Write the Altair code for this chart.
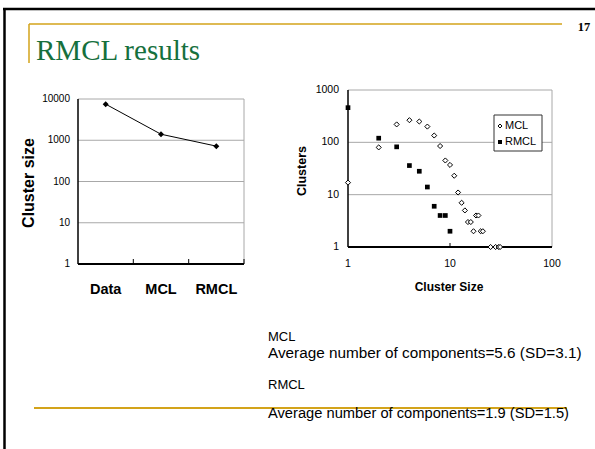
import altair as alt
import pandas as pd

# ---- values --------------------------------------------------------------
methods = ["Data", "MCL", "RMCL"]
method_cluster_size = [7500, 1400, 720]

mcl_sizes = [1, 2, 3, 4, 5, 6, 7, 8, 9, 10, 11, 12, 13, 14, 15, 16, 17, 18, 19, 20, 21, 25, 28, 30, 31]
mcl_counts = [17, 80, 220, 265, 250, 200, 135, 85, 45, 37, 23, 11, 7, 5, 3, 3, 2, 4, 4, 2, 2, 1, 1, 1, 1]

rmcl_sizes = [1, 2, 3, 4, 5, 6, 7, 8, 9, 10]
rmcl_counts = [460, 120, 82, 36, 28, 14, 6, 4, 4, 2]

left_ticks = [1, 10, 100, 1000, 10000]
left_grid = [10, 100, 1000]
right_y_ticks = [1, 10, 100, 1000]
right_grid = [10, 100]
right_x_ticks = [1, 10, 100]

notes = [
    ("MCL", "Average number of components=5.6 (SD=3.1)"),
    ("RMCL", "Average number of components=1.9 (SD=1.5)"),
]

# ---- styling -------------------------------------------------------------
W, H = 595, 449
GOLD = "#d3a31a"
GREEN = "#16703d"
GRID = "#a8a8a8"
SANS = "Liberation Sans"
SERIF = "Liberation Serif"

# panel geometry (pixel ranges of each plot area)
L_X, L_Y = [78, 244], [264, 99]
R_X, R_Y = [348, 552], [247, 90]

lx = alt.Scale(type="point", domain=methods, range=L_X, padding=0.5)
ly = alt.Scale(type="log", domain=[1, 10000], range=L_Y, nice=False)
rx = alt.Scale(type="log", domain=[1, 100], range=R_X, nice=False)
ry = alt.Scale(type="log", domain=[1, 1000], range=R_Y, nice=False)

one = pd.DataFrame({"k": [0]})


def seg(x1, y1, x2, y2, color, width):
    return alt.Chart(one).mark_rule(color=color, strokeWidth=width).encode(
        x=alt.value(x1), x2=alt.value(x2), y=alt.value(y1), y2=alt.value(y2)
    )


def label(x, y, text, **kw):
    return alt.Chart(one).mark_text(text=text, **kw).encode(
        x=alt.value(x), y=alt.value(y)
    )


layers = []

# ---- slide frame, rules and title ---------------------------------------
layers += [
    seg(4.5, 8, 4.5, H, "black", 2.5),
    seg(3, 9, W, 9, "black", 2.5),
    seg(29, 24, 562, 24, GOLD, 1.5),
    seg(29, 24, 29, 63, GOLD, 1.5),
    seg(34, 408, 567, 408, GOLD, 2),
    label(36, 60, "RMCL results", font=SERIF, fontSize=29, color=GREEN,
          align="left", baseline="alphabetic"),
    label(584, 27, "17", font=SERIF, fontSize=12.5, fontWeight="bold",
          color="black", align="center", baseline="middle"),
]

# ---- left panel: cluster size per method --------------------------------
layers += [
    alt.Chart(pd.DataFrame({"v": left_grid})).mark_rule(color=GRID, strokeWidth=1).encode(
        y=alt.Y("v:Q", scale=ly, axis=None), x=alt.value(L_X[0]), x2=alt.value(L_X[1])
    ),
    seg(L_X[0], L_Y[1], L_X[1], L_Y[1], GRID, 1),
    seg(L_X[1], L_Y[1], L_X[1], L_Y[0], GRID, 1),
    seg(L_X[0], L_Y[1], L_X[0], L_Y[0], "black", 1.5),
    seg(L_X[0], L_Y[0], L_X[1], L_Y[0], "black", 2),
    seg(133.3, L_Y[0] - 5, 133.3, L_Y[0], "black", 1),
    seg(188.7, L_Y[0] - 5, 188.7, L_Y[0], "black", 1),
    seg(244, L_Y[0] - 5, 244, L_Y[0], "black", 1),
    alt.Chart(pd.DataFrame({"v": left_ticks, "t": [str(v) for v in left_ticks]})).mark_text(
        align="right", baseline="middle", font=SANS, fontSize=10, color="black"
    ).encode(y=alt.Y("v:Q", scale=ly, axis=None), x=alt.value(70), text="t:N"),
    alt.Chart(pd.DataFrame({"m": methods})).mark_text(
        align="center", baseline="middle", font=SANS, fontSize=14.5, fontWeight="bold", color="black"
    ).encode(x=alt.X("m:N", scale=lx, axis=None), y=alt.value(290), text="m:N"),
    label(29, 183, "Cluster size", font=SANS, fontSize=16, fontWeight="bold",
          color="black", angle=270, align="center", baseline="middle"),
]

left_df = pd.DataFrame({"method": methods, "size": method_cluster_size})
layers += [
    alt.Chart(left_df).mark_line(color="black", strokeWidth=1).encode(
        x=alt.X("method:N", scale=lx, axis=None, sort=None),
        y=alt.Y("size:Q", scale=ly, axis=None),
    ),
    alt.Chart(left_df).mark_point(shape="diamond", filled=True, color="black", size=36, opacity=1).encode(
        x=alt.X("method:N", scale=lx, axis=None),
        y=alt.Y("size:Q", scale=ly, axis=None),
    ),
]

# ---- right panel: cluster size distribution -----------------------------
layers += [
    alt.Chart(pd.DataFrame({"v": right_grid})).mark_rule(color=GRID, strokeWidth=1).encode(
        y=alt.Y("v:Q", scale=ry, axis=None), x=alt.value(R_X[0]), x2=alt.value(R_X[1])
    ),
    seg(R_X[0], R_Y[1], R_X[1], R_Y[1], GRID, 1),
    seg(R_X[1], R_Y[1], R_X[1], R_Y[0], GRID, 1),
    seg(R_X[0], R_Y[1], R_X[0], R_Y[0], "black", 1.5),
    seg(R_X[0], R_Y[0], R_X[1], R_Y[0], "black", 2),
    alt.Chart(pd.DataFrame({"v": [10]})).mark_rule(color="black", strokeWidth=1).encode(
        x=alt.X("v:Q", scale=rx, axis=None), y=alt.value(R_Y[0] - 4), y2=alt.value(R_Y[0])
    ),
    alt.Chart(pd.DataFrame({"v": right_y_ticks, "t": [str(v) for v in right_y_ticks]})).mark_text(
        align="right", baseline="middle", font=SANS, fontSize=10.5, color="black"
    ).encode(y=alt.Y("v:Q", scale=ry, axis=None), x=alt.value(339), text="t:N"),
    alt.Chart(pd.DataFrame({"v": right_x_ticks, "t": [str(v) for v in right_x_ticks]})).mark_text(
        align="center", baseline="middle", font=SANS, fontSize=10.5, color="black"
    ).encode(x=alt.X("v:Q", scale=rx, axis=None), y=alt.value(264), text="t:N"),
    label(449, 287, "Cluster Size", font=SANS, fontSize=12, fontWeight="bold",
          color="black", align="center", baseline="middle"),
    label(302, 171, "Clusters", font=SANS, fontSize=12.5, fontWeight="bold",
          color="black", angle=270, align="center", baseline="middle"),
]

mcl_df = pd.DataFrame({"size": mcl_sizes, "count": mcl_counts})
rmcl_df = pd.DataFrame({"size": rmcl_sizes, "count": rmcl_counts})
layers += [
    alt.Chart(rmcl_df).mark_point(shape="square", filled=True, color="black", size=22, opacity=1).encode(
        x=alt.X("size:Q", scale=rx, axis=None),
        y=alt.Y("count:Q", scale=ry, axis=None),
    ),
    alt.Chart(mcl_df).mark_point(
        shape="diamond", filled=True, fill="white", stroke="black", strokeWidth=1, size=26, opacity=1
    ).encode(
        x=alt.X("size:Q", scale=rx, axis=None),
        y=alt.Y("count:Q", scale=ry, axis=None),
    ),
]

# legend box
layers += [
    alt.Chart(one).mark_rect(fill="white", stroke="#333333", strokeWidth=1).encode(
        x=alt.value(494), x2=alt.value(542), y=alt.value(115), y2=alt.value(151)
    ),
    alt.Chart(one).mark_point(shape="diamond", filled=True, fill="white", stroke="black",
                              strokeWidth=1, size=16, opacity=1).encode(x=alt.value(500), y=alt.value(126)),
    alt.Chart(one).mark_point(shape="square", filled=True, color="black", size=16,
                              opacity=1).encode(x=alt.value(500), y=alt.value(142)),
    label(505, 126, "MCL", font=SANS, fontSize=11, color="black", align="left", baseline="middle"),
    label(505, 142, "RMCL", font=SANS, fontSize=11, color="black", align="left", baseline="middle"),
]

# ---- summary notes -------------------------------------------------------
note_rows = [(337, 353, 15.3), (385, 414, 14.7)]
for (head, body), (y1, y2, size) in zip(notes, note_rows):
    layers += [
        label(268, y1, head, font=SANS, fontSize=13, color="black", align="left", baseline="middle"),
        label(268, y2, body, font=SANS, fontSize=size, color="black", align="left", baseline="middle"),
    ]

chart = (
    alt.layer(*layers)
    .resolve_scale(x="independent", y="independent")
    .properties(width=W, height=H, padding=0, autosize="none", background="white")
    .configure_view(stroke=None)
)

chart.save("out.html", embed_options={"renderer": "svg", "actions": False})
